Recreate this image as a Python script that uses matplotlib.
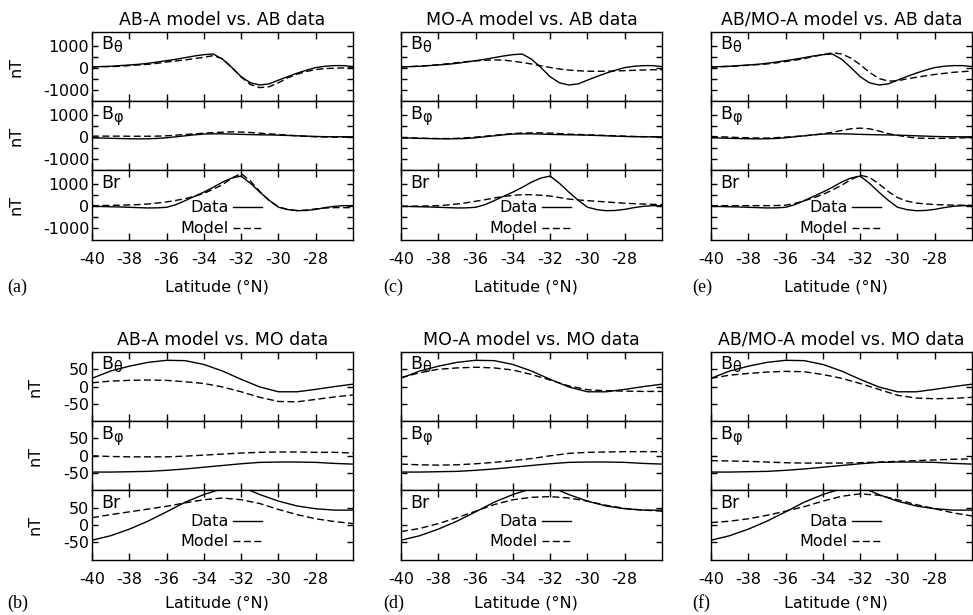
import numpy as np
import matplotlib
matplotlib.use("Agg")
import matplotlib.pyplot as plt

# ---------------- data ----------------
lat_ab = [-40, -39.5, -39, -38.5, -38, -37.5, -37, -36.5, -36, -35.5, -35, -34.5, -34, -33.5,
          -33, -32.5, -32, -31.5, -31, -30.5, -30, -29.5, -29, -28.5, -28, -27.5, -27, -26.5, -26]
lat_mo = [-40, -39, -38, -37, -36, -35, -34, -33, -32, -31, -30, -29, -28, -27, -26]

# AB data (shared by panels a, c, e)
ab_data_bt = [50, 60, 75, 105, 135, 165, 210, 270, 330, 395, 470, 545, 605, 635,
              400, 20, -400, -680, -780, -730, -560, -395, -240, -105, 15, 75, 105, 105, 60]
ab_data_bp = [-30, -40, -55, -65, -75, -80, -75, -60, -30, 15, 60, 105, 140, 150,
              150, 140, 125, 115, 105, 100, 90, 75, 60, 45, 30, 20, 15, 15, 15]
ab_data_br = [0, -10, -20, -30, -45, -60, -75, -70, -45, 75, 260, 455, 650, 865,
              1105, 1290, 1380, 1050, 650, 280, -40, -150, -200, -190, -140, -60, 0, 30, 30]

# AB-A model vs AB data (a)
a_model_bt = [45, 60, 60, 75, 105, 135, 165, 210, 270, 320, 365, 425, 485, 560,
              420, 20, -420, -760, -900, -860, -680, -455, -290, -165, -75, -30, -15, 0, 0]
a_model_bp = [45, 45, 45, 45, 40, 40, 40, 45, 60, 90, 120, 150, 180, 205,
              225, 240, 230, 210, 180, 150, 120, 90, 60, 35, 15, 5, 0, 0, 0]
a_model_br = [30, 35, 45, 50, 60, 80, 105, 150, 200, 270, 350, 460, 590, 780,
              985, 1290, 1500, 1150, 680, 260, -20, -150, -190, -170, -120, -80, -60, -60, -60]

# MO-A model vs AB data (c)
c_model_bt = [45, 60, 80, 110, 150, 190, 240, 285, 320, 350, 365, 355, 310, 250,
              180, 100, 20, -50, -100, -130, -150, -155, -150, -140, -125, -110, -95, -85, -80]
c_model_bp = [-30, -40, -50, -60, -65, -65, -55, -30, 0, 40, 80, 125, 165, 185,
              195, 195, 185, 160, 135, 120, 105, 90, 75, 60, 45, 30, 20, 15, 15]
c_model_br = [0, 5, 10, 20, 30, 60, 105, 160, 230, 300, 380, 450, 500, 530,
              530, 505, 470, 400, 330, 290, 260, 230, 200, 170, 140, 120, 105, 90, 75]

# AB/MO-A model vs AB data (e)
e_model_bt = [45, 55, 70, 95, 120, 150, 180, 230, 290, 355, 425, 520, 605, 690,
              640, 450, 150, -200, -480, -600, -590, -500, -430, -360, -300, -250, -200, -170, -140]
e_model_bp = [30, 15, 0, -20, -30, -40, -45, -25, 0, 30, 60, 100, 150, 220,
              300, 380, 410, 380, 280, 160, 80, 10, -40, -55, -60, -55, -45, -35, -30]
e_model_br = [30, 30, 30, 30, 30, 30, 30, 35, 50, 130, 250, 390, 540, 740,
              960, 1210, 1420, 1320, 1030, 680, 400, 240, 150, 110, 80, 65, 55, 50, 45]

# MO data (shared by panels b, d, f)
mo_data_bt = [24, 45, 59, 70, 76, 75, 64, 45, 21, -1, -15, -15, -8, 0, 7]
mo_data_bp = [-47, -47, -46, -45, -42, -38, -33, -28, -23, -19, -18, -18, -19, -22, -24]
mo_data_br = [-44, -31, -12, 11, 38, 66, 88, 105, 111, 88, 69, 55, 47, 43, 43]

# AB-A model vs MO data (b)
b_model_bt = [11, 16, 18, 19, 18, 14, 9, -1, -15, -31, -43, -44, -37, -30, -24]
b_model_bp = [0, -2, -3, -3, -3, -1, 2, 5, 8, 10, 11, 11, 10, 10, 8]
b_model_br = [21, 30, 38, 46, 54, 64, 73, 78, 73, 62, 45, 30, 18, 10, 4]

# MO-A model vs MO data (d)
d_model_bt = [26, 40, 50, 54, 56, 54, 48, 35, 19, 2, -9, -12, -13, -14, -14]
d_model_bp = [-24, -26, -27, -26, -23, -19, -14, -8, 0, 7, 10, 11, 12, 12, 12]
d_model_br = [-19, -10, 4, 21, 40, 59, 73, 80, 82, 78, 69, 57, 48, 43, 40]

# AB/MO-A model vs MO data (f)
f_model_bt = [24, 33, 38, 42, 44, 43, 35, 24, 9, -8, -25, -33, -35, -34, -31]
f_model_bp = [-14, -15, -16, -18, -20, -21, -21, -21, -20, -18, -16, -14, -12, -10, -9]
f_model_br = [7, 11, 18, 28, 40, 53, 69, 83, 90, 86, 73, 59, 47, 35, 26]

titles = ["AB-A model vs. AB data", "MO-A model vs. AB data", "AB/MO-A model vs. AB data",
          "AB-A model vs. MO data", "MO-A model vs. MO data", "AB/MO-A model vs. MO data"]
panel_letters = ["(a)", "(c)", "(e)", "(b)", "(d)", "(f)"]
comp_main = ["B", "B", "Br"]
comp_sub = ["θ", "φ", ""]
xtick_vals = [-40, -38, -36, -34, -32, -30, -28]

# ---------------- layout ----------------
W, H = 973, 615
plt.rcParams['font.family'] = ['DejaVu Sans']
plt.rcParams['axes.unicode_minus'] = False
fig = plt.figure(figsize=(W / 100, H / 100), dpi=100)

col_left = [92, 401, 711]
ax_w = 261
row_top = [32, 352]
sub_h = 69.2

panels = [
    (lat_ab, [ab_data_bt, ab_data_bp, ab_data_br], [a_model_bt, a_model_bp, a_model_br]),
    (lat_ab, [ab_data_bt, ab_data_bp, ab_data_br], [c_model_bt, c_model_bp, c_model_br]),
    (lat_ab, [ab_data_bt, ab_data_bp, ab_data_br], [e_model_bt, e_model_bp, e_model_br]),
    (lat_mo, [mo_data_bt, mo_data_bp, mo_data_br], [b_model_bt, b_model_bp, b_model_br]),
    (lat_mo, [mo_data_bt, mo_data_bp, mo_data_br], [d_model_bt, d_model_bp, d_model_br]),
    (lat_mo, [mo_data_bt, mo_data_bp, mo_data_br], [f_model_bt, f_model_bp, f_model_br]),
]

FS = 11.5
dash = (5, 2.5)

for p, (lat, datas, models) in enumerate(panels):
    row = p // 3
    col = p % 3
    left = col_left[col]
    top = row_top[row]
    is_ab = row == 0
    for k in range(3):
        y_top = top + k * sub_h
        ax = fig.add_axes([left / W, 1 - (y_top + sub_h) / H, ax_w / W, sub_h / H])
        ax.plot(lat, datas[k], color='black', lw=1.0, solid_joinstyle='round')
        ax.plot(lat, models[k], color='black', lw=1.0, dashes=dash)
        ax.set_xlim(-40, -26)
        if is_ab:
            ax.set_ylim(-1520, 1640)
            ax.set_yticks([-1000, 0, 1000])
            ax.set_yticks([-500, 500], minor=True)
        else:
            ax.set_ylim(-100, 100)
            ax.set_yticks([-50, 0, 50])
        ax.set_xticks(xtick_vals)
        ax.tick_params(axis='both', which='both', direction='in', top=True, right=True,
                       width=1.0, labelsize=FS, pad=2)
        ax.tick_params(axis='y', which='both', length=4)
        ax.tick_params(axis='x', which='both', length=5, pad=9)
        for s in ax.spines.values():
            s.set_linewidth(1.0)
        if k < 2:
            ax.set_xticklabels([])
        else:
            ax.set_xticklabels([str(v) for v in xtick_vals])
        if col != 0:
            ax.set_yticklabels([])
        ax.annotate(comp_main[k], xy=(0.035, 0.95), xycoords='axes fraction',
                    ha='left', va='top', fontsize=12.5)
        if comp_sub[k]:
            ax.annotate(comp_sub[k], xy=(0.035, 0.95), xycoords='axes fraction',
                        xytext=(8.6, -3.5), textcoords='offset points',
                        ha='left', va='top', fontsize=10.5)
        if k == 2:
            ly = (0.47, 0.166) if is_ab else (0.553, 0.265)
            for name, yy, ds in (("Data", ly[0], None), ("Model", ly[1], dash)):
                ax.text(0.524, yy, name, transform=ax.transAxes, ha='right', va='center',
                        fontsize=FS)
                kw = dict(color='black', lw=1.0, transform=ax.transAxes, clip_on=False)
                if ds is not None:
                    kw['dashes'] = ds
                ax.plot([0.54, 0.652], [yy, yy], **kw)
        if col == 0:
            nx = 16.5 if is_ab else 35
            fig.text(nx / W, 1 - (y_top + sub_h / 2) / H, "nT", rotation=90,
                     ha='center', va='center', fontsize=FS)
    # title
    fig.text((left + ax_w / 2) / W, 1 - (top - 12) / H, titles[p], ha='center', va='center',
             fontsize=12.5)
    # xlabel
    lab_y = 287 if is_ab else 603
    fig.text((left + ax_w / 2 - 6) / W, 1 - lab_y / H, "Latitude (°N)", ha='center',
             va='center', fontsize=FS)
    # panel letter
    letter_x = [7, 383, 692][col]
    fig.text(letter_x / W, 1 - lab_y / H, panel_letters[p], ha='left', va='center',
             fontsize=13, family='Liberation Serif')

fig.savefig("out.png", dpi=100)
